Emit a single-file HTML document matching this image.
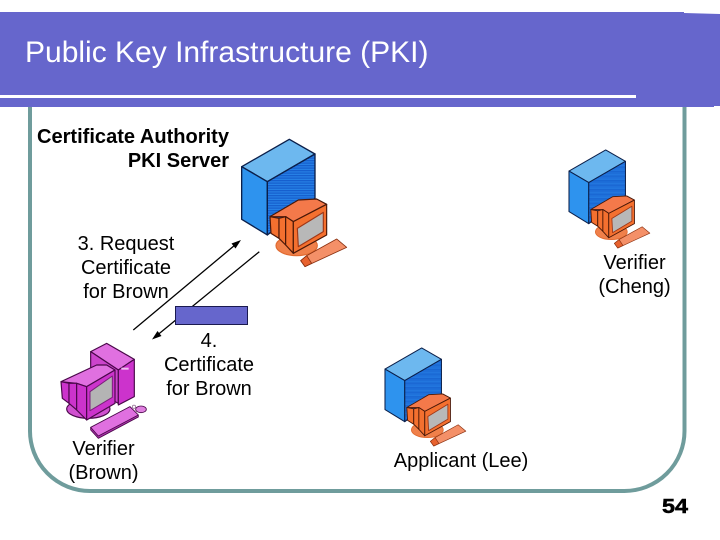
<!DOCTYPE html>
<html>
<head>
<meta charset="utf-8">
<style>
html,body{margin:0;padding:0;background:#fff;width:720px;height:540px;overflow:hidden}
svg{display:block}
text{font-family:"Liberation Sans",Arial,sans-serif;fill:#000}
</style>
</head>
<body>
<svg width="720" height="540" viewBox="0 0 720 540" xmlns="http://www.w3.org/2000/svg">
<defs>
<pattern id="st" width="6" height="5" patternUnits="userSpaceOnUse">
  <rect width="6" height="5" fill="#2a86ea"/>
  <rect width="6" height="2.500" fill="#1258c8"/>
</pattern>
<g id="server" stroke-linejoin="round">
  <g stroke="#0b1f4a" stroke-width="4">
    <polygon points="35,110 178,28 255,72 112,155" fill="#6db8ef"/>
    <polygon points="35,110 112,155 112,315 35,268" fill="#2e93ee"/>
    <polygon points="112,155 255,72 255,205 112,315" fill="url(#st)"/>
  </g>
  <g stroke="#4a1808" stroke-width="3.500">
    <ellipse cx="200" cy="347" rx="62" ry="30" fill="#f0804a" stroke="#e06a30"/>
    <polygon points="120,260 205,210 260,207 290,223 190,275 167,260" fill="#f4794a"/>
    <polygon points="120,260 147,265 147,325 123,310" fill="#f4702f"/>
    <polygon points="147,265 167,260 167,345 147,325" fill="#f4702f"/>
    <polygon points="167,260 190,275 190,370 167,345" fill="#f4702f"/>
    <polygon points="190,275 290,223 290,315 190,370" fill="#f4702f"/>
    <polygon points="202,295 280,247 280,305 205,350" fill="#b8b8b8" stroke="#a03818" stroke-width="3.500"/>
    <polygon points="212,392 230,377 320,327 350,352 225,410" fill="#f49068" stroke="#8a3010" stroke-width="2.500"/>
    <polygon points="212,392 230,377 245,400 225,410" fill="#e8622e" stroke="#8a3010" stroke-width="2.500"/>
  </g>
</g>
</defs>

<!-- frame -->
<path d="M30,100 V430 A60,60 0 0 0 90,491 H624 A60,60 0 0 0 684.500,431 V100" fill="none" stroke="#6f9c9c" stroke-width="4"/>

<!-- header -->
<polygon points="0,12 684,12 684,13 720,14 720,106 714,106 714,107 0,107" fill="#6666cc"/>
<rect x="0" y="95" width="636" height="3" fill="#fff"/>
<text x="25" y="62" font-size="30" style="fill:#fff">Public Key Infrastructure (PKI)</text>

<!-- CA labels -->
<text x="229" y="143" font-size="20" font-weight="bold" text-anchor="end" textLength="192" lengthAdjust="spacingAndGlyphs">Certificate Authority</text>
<text x="229" y="167" font-size="20" font-weight="bold" text-anchor="end">PKI Server</text>

<!-- icons -->
<use href="#server" transform="translate(230,130) scale(.3333)"/>
<use href="#server" transform="translate(560,142.800) scale(.2567)"/>
<use href="#server" transform="translate(376,340.800) scale(.2567)"/>

<!-- arrows -->
<g stroke="#000" stroke-width="1.300" fill="#000">
  <line x1="133.300" y1="330" x2="238" y2="242.500"/>
  <polygon points="241,240 231.500,243.500 235.500,248.500" stroke="none"/>
  <line x1="259.300" y1="251.700" x2="155" y2="337"/>
  <polygon points="152,339.500 161.500,336 157.500,331" stroke="none"/>
</g>
<rect x="175.500" y="306.500" width="72" height="18" fill="#6666cc" stroke="#1a1a50" stroke-width="1"/>

<!-- magenta PC -->
<g transform="translate(50,335) scale(.3333)" stroke="#4a084a" stroke-width="3.500" stroke-linejoin="round">
  <polygon points="122,50 170,25 253,73 205,105" fill="#e070e0"/>
  <polygon points="122,50 205,105 205,205 122,160" fill="#cc44cc"/>
  <polygon points="205,105 253,73 253,185 205,210" fill="#cc33cc"/>
  <rect x="214" y="98" width="22" height="6" fill="#f0c0f0" stroke="none"/>
  <ellipse cx="115" cy="222" rx="65" ry="28" fill="#d050d0"/>
  <polygon points="33,140 140,90 170,90 195,105 110,155 80,145" fill="#e070e0"/>
  <polygon points="33,140 57,145 57,205 37,190" fill="#cc33cc"/>
  <polygon points="57,145 80,145 80,225 57,205" fill="#cc33cc"/>
  <polygon points="80,145 110,155 110,255 80,225" fill="#cc33cc"/>
  <polygon points="110,155 195,105 195,205 110,255" fill="#cc33cc"/>
  <polygon points="120,170 187,123 187,187 120,227" fill="#b4b4b4" stroke="#7a207a" stroke-width="3"/>
  <polygon points="122,277 240,215 265,240 265,246 145,310 122,285" fill="#a830a8" stroke-width="2.500"/>
  <polygon points="122,277 240,215 265,240 145,303" fill="#e070e0" stroke-width="2.500"/>
  <ellipse cx="273" cy="223" rx="16" ry="10" fill="#e080e0" stroke-width="2.500"/>
  <circle cx="252" cy="215" r="5" fill="#fff" stroke-width="1.500"/>
</g>

<!-- labels -->
<g font-size="20" text-anchor="middle">
  <text x="126" y="250">3. Request</text>
  <text x="126" y="274">Certificate</text>
  <text x="126" y="298">for Brown</text>
  <text x="634.500" y="269">Verifier</text>
  <text x="634.500" y="293">(Cheng)</text>
  <text x="209" y="347">4.</text>
  <text x="209" y="371">Certificate</text>
  <text x="209" y="395">for Brown</text>
  <text x="103.500" y="455">Verifier</text>
  <text x="103.500" y="479">(Brown)</text>
  <text x="461" y="467">Applicant (Lee)</text>
</g>
<text x="662" y="513" font-size="20" font-weight="bold" stroke="#000" stroke-width=".5" textLength="26" lengthAdjust="spacingAndGlyphs">54</text>
</svg>
</body>
</html>
